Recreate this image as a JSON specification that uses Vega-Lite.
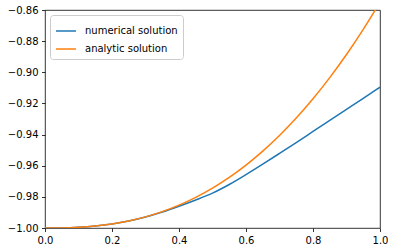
{
  "$schema": "https://vega.github.io/schema/vega-lite/v6.json",
  "autosize": {"type": "none"},
  "padding": {"left": 45, "top": 10, "right": 14, "bottom": 24},
  "width": 335,
  "height": 218,
  "config": {
    "font": "DejaVu Sans",
    "view": {"stroke": "#000000", "strokeWidth": 0.8},
    "axis": {
      "domain": false,
      "grid": false,
      "ticks": true,
      "tickColor": "#000000",
      "tickSize": 3.5,
      "tickWidth": 0.8,
      "labelFont": "DejaVu Sans",
      "labelFontSize": 10,
      "labelColor": "#000000",
      "labelPadding": 3.5,
      "labelFlush": false,
      "title": null
    }
  },
  "data": {
    "values": [
      {"x": 0.00, "y": -1.00000, "series": "numerical solution"},
      {"x": 0.05, "y": -0.99992, "series": "numerical solution"},
      {"x": 0.10, "y": -0.99954, "series": "numerical solution"},
      {"x": 0.15, "y": -0.99875, "series": "numerical solution"},
      {"x": 0.20, "y": -0.99743, "series": "numerical solution"},
      {"x": 0.25, "y": -0.99550, "series": "numerical solution"},
      {"x": 0.30, "y": -0.99292, "series": "numerical solution"},
      {"x": 0.35, "y": -0.98970, "series": "numerical solution"},
      {"x": 0.40, "y": -0.98600, "series": "numerical solution"},
      {"x": 0.45, "y": -0.98200, "series": "numerical solution"},
      {"x": 0.50, "y": -0.97760, "series": "numerical solution"},
      {"x": 0.55, "y": -0.97205, "series": "numerical solution"},
      {"x": 0.60, "y": -0.96570, "series": "numerical solution"},
      {"x": 0.65, "y": -0.95900, "series": "numerical solution"},
      {"x": 0.70, "y": -0.95210, "series": "numerical solution"},
      {"x": 0.75, "y": -0.94510, "series": "numerical solution"},
      {"x": 0.80, "y": -0.93800, "series": "numerical solution"},
      {"x": 0.85, "y": -0.93090, "series": "numerical solution"},
      {"x": 0.90, "y": -0.92380, "series": "numerical solution"},
      {"x": 0.95, "y": -0.91670, "series": "numerical solution"},
      {"x": 1.00, "y": -0.90960, "series": "numerical solution"},
      {"x": 0.00, "y": -1.00000, "series": "analytic solution"},
      {"x": 0.05, "y": -0.99992, "series": "analytic solution"},
      {"x": 0.10, "y": -0.99954, "series": "analytic solution"},
      {"x": 0.15, "y": -0.99874, "series": "analytic solution"},
      {"x": 0.20, "y": -0.99741, "series": "analytic solution"},
      {"x": 0.25, "y": -0.99547, "series": "analytic solution"},
      {"x": 0.30, "y": -0.99285, "series": "analytic solution"},
      {"x": 0.35, "y": -0.98949, "series": "analytic solution"},
      {"x": 0.40, "y": -0.98533, "series": "analytic solution"},
      {"x": 0.45, "y": -0.98030, "series": "analytic solution"},
      {"x": 0.50, "y": -0.97437, "series": "analytic solution"},
      {"x": 0.55, "y": -0.96747, "series": "analytic solution"},
      {"x": 0.60, "y": -0.95957, "series": "analytic solution"},
      {"x": 0.65, "y": -0.95061, "series": "analytic solution"},
      {"x": 0.70, "y": -0.94056, "series": "analytic solution"},
      {"x": 0.75, "y": -0.92937, "series": "analytic solution"},
      {"x": 0.80, "y": -0.91700, "series": "analytic solution"},
      {"x": 0.85, "y": -0.90341, "series": "analytic solution"},
      {"x": 0.90, "y": -0.88858, "series": "analytic solution"},
      {"x": 0.95, "y": -0.87245, "series": "analytic solution"},
      {"x": 1.00, "y": -0.85500, "series": "analytic solution"}
    ]
  },
  "mark": {"type": "line", "strokeWidth": 1.5, "clip": true, "interpolate": "monotone"},
  "encoding": {
    "x": {
      "field": "x",
      "type": "quantitative",
      "scale": {"domain": [0, 1], "nice": false, "zero": false},
      "axis": {"values": [0, 0.2, 0.4, 0.6, 0.8, 1.0], "format": ".1f"}
    },
    "y": {
      "field": "y",
      "type": "quantitative",
      "scale": {"domain": [-1.0, -0.86], "nice": false, "zero": false},
      "axis": {"values": [-1.0, -0.98, -0.96, -0.94, -0.92, -0.90, -0.88, -0.86], "format": ".2f"}
    },
    "color": {
      "field": "series",
      "type": "nominal",
      "scale": {"domain": ["numerical solution", "analytic solution"], "range": ["#1f77b4", "#ff7f0e"]},
      "legend": {
        "orient": "top-left",
        "title": null,
        "offset": 5,
        "padding": 5,
        "fillColor": "#ffffff",
        "strokeColor": "#cccccc",
        "cornerRadius": 3,
        "symbolType": "stroke",
        "symbolSize": 400,
        "symbolStrokeWidth": 1.5,
        "labelFont": "DejaVu Sans",
        "labelFontSize": 10,
        "labelColor": "#000000",
        "labelOffset": 8,
        "rowPadding": 2
      }
    }
  }
}
